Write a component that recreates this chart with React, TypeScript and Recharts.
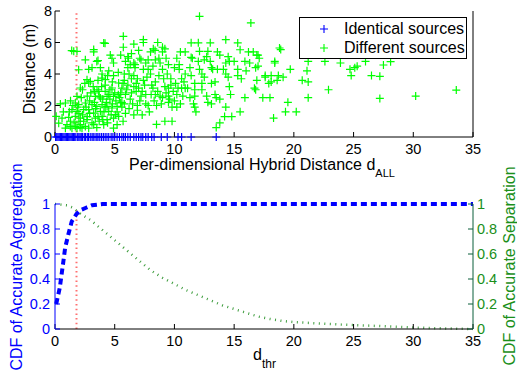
import React from "react";
import {
  ScatterChart,
  Scatter,
  LineChart,
  Line,
  XAxis,
  YAxis,
  ReferenceLine,
  Legend,
} from "recharts";

const FONT = "'Liberation Sans', Arial, Helvetica, sans-serif";

const xTicks = [0, 5, 10, 15, 20, 25, 30, 35];
const distTicks = [0, 2, 4, 6, 8];
const cdfTicks = [0, 0.2, 0.4, 0.6, 0.8, 1];
const threshold = 1.8;

// identical sources all sit at distance 0
const identicalX = [
  0.05, 0.15, 0.25, 0.35, 0.45, 0.55, 0.65, 0.75, 0.85, 0.95, 1.05, 1.15, 1.25,
  1.35, 1.45, 1.55, 1.65, 1.75, 1.9, 2.0, 2.1, 2.2, 2.3, 2.45, 2.55, 2.7, 2.8,
  2.95, 3.1, 3.2, 3.35, 3.5, 3.6, 3.75, 3.9, 4.05, 4.2, 4.35, 4.5, 4.7, 4.85,
  5.0, 5.2, 5.4, 5.6, 5.75, 5.9, 6.1, 6.3, 6.6, 6.8, 7.0, 7.2, 7.35, 7.6, 7.8,
  8.1, 8.3, 8.9, 9.4, 10.3, 10.6, 11.4, 13.5,
];

// different sources [d_ALL, distance]
const differentNear = [
  [4.08, 5.97], [1.57, 5.44], [1.84, 5.44], [3.24, 5.55], [3.24, 5.4], [2.54, 4.9],
  [3.5, 4.8], [3.6, 4.85], [4.63, 5.2], [4.77, 5.0], [4.9, 4.7], [1.98, 4.27],
  [2.82, 4.3], [3.1, 4.4], [3.8, 4.4], [4.5, 4.2], [3.94, 4.0], [2.12, 3.11],
  [2.82, 3.43], [2.96, 3.53], [2.68, 3.64], [3.94, 3.74], [4.22, 3.64], [4.77, 3.11],
  [5.33, 3.43], [3.52, 3.0], [3.66, 2.9], [4.2, 2.9], [4.6, 3.0], [5.0, 2.8],
  [1.84, 2.58], [3.38, 2.58], [3.8, 2.48], [4.36, 2.58], [4.9, 2.58], [5.3, 2.69],
  [0.87, 2.16], [0.45, 2.1], [1.7, 2.16], [1.98, 2.06], [2.54, 2.16], [3.1, 2.06],
  [3.5, 1.95], [3.94, 2.06], [4.36, 1.95], [4.77, 1.84], [5.2, 1.95], [5.5, 2.16],
  [1.42, 1.74], [1.84, 1.63], [2.4, 1.74], [2.82, 1.74], [3.24, 1.52], [3.8, 1.63],
  [4.5, 1.63], [5.05, 1.42], [0.1, 1.31], [0.59, 1.2], [1.15, 1.25], [1.7, 1.31],
  [2.12, 1.2], [2.68, 1.1], [3.38, 1.2], [3.94, 1.31], [4.36, 1.1], [4.9, 1.2],
  [5.33, 1.31], [0.31, 0.88], [1.0, 0.78], [1.28, 0.67], [1.7, 0.67], [2.12, 0.78],
  [2.54, 0.67], [3.24, 0.78], [4.08, 0.78], [4.9, 0.56], [5.2, 0.78], [0.87, 0.56],
  [1.42, 0.56], [1.84, 0.56], [2.26, 0.56], [2.82, 0.56], [1.3, 1.0], [1.6, 0.9],
  [2.0, 1.0], [2.3, 1.4], [2.6, 1.9], [2.9, 2.3], [3.0, 2.8], [3.3, 2.2],
  [3.6, 1.3], [3.7, 2.6], [4.0, 2.4], [4.1, 1.6], [4.3, 2.2], [4.6, 2.4],
  [4.7, 1.4], [5.1, 2.3], [2.2, 2.5], [2.5, 3.4], [1.5, 2.0], [1.2, 1.6],
  [2.7, 1.3], [3.1, 0.9], [3.5, 0.6], [4.4, 0.9], [1.9, 1.9], [2.4, 1.0],
  [3.9, 3.2], [4.2, 3.3], [4.8, 3.5], [5.4, 2.5], [4.19, 5.95], [1.4, 5.49],
  [2.3, 3.0], [2.7, 2.6], [3.2, 3.2], [3.4, 1.8], [3.7, 1.0], [4.0, 1.1],
  [4.4, 3.9], [4.5, 2.7], [4.9, 3.9], [5.2, 1.6], [2.0, 1.5], [1.3, 2.3],
  [0.7, 1.6], [2.9, 1.5], [3.6, 3.6], [4.8, 2.1], [5.3, 4.1], [3.3, 2.9],
  [2.1, 0.6], [4.2, 1.9],
];

const differentMid = [
  [5.72, 6.39], [5.72, 5.7], [7.4, 6.18], [7.4, 6.0], [8.23, 5.6], [8.38, 5.5],
  [9.0, 5.7], [9.0, 5.4], [9.2, 5.6], [10.5, 5.4], [10.9, 5.4], [6.1, 5.1],
  [6.15, 5.0], [7.1, 5.0], [7.2, 4.9], [7.8, 4.9], [8.4, 4.9], [8.7, 5.0],
  [8.8, 4.7], [6.6, 4.7], [6.7, 4.6], [9.0, 4.3], [6.1, 4.4], [6.7, 4.4],
  [7.4, 4.3], [7.8, 4.3], [8.0, 4.0], [5.8, 4.0], [6.2, 4.0], [6.6, 3.9],
  [9.4, 4.0], [9.7, 3.7], [10.4, 4.3], [10.9, 4.0], [10.6, 3.7], [6.4, 3.7],
  [6.9, 3.7], [7.4, 3.6], [8.4, 3.5], [9.1, 3.7], [9.2, 3.2], [9.5, 3.1],
  [5.7, 3.4], [6.6, 3.2], [7.0, 3.1], [10.3, 3.1], [10.6, 3.1], [10.9, 3.1],
  [5.5, 2.8], [5.9, 2.7], [6.4, 2.8], [7.2, 2.6], [7.6, 2.7], [8.05, 2.7],
  [8.4, 2.7], [8.8, 2.6], [9.5, 2.6], [9.6, 2.4], [9.5, 2.2], [5.6, 2.2],
  [5.8, 2.1], [5.6, 1.9], [7.6, 2.1], [7.8, 2.0], [8.5, 2.0], [9.8, 1.9],
  [10.2, 1.9], [5.9, 1.5], [6.6, 1.4], [7.3, 1.4], [5.7, 1.0], [8.5, 0.8],
  [9.2, 1.0], [9.8, 1.0], [6.0, 3.0], [6.3, 2.4], [6.8, 2.9], [7.1, 2.3],
  [7.5, 3.3], [8.2, 3.1], [8.7, 3.9], [9.9, 2.9], [10.1, 3.4], [10.7, 2.6],
  [5.6, 3.1], [6.2, 1.8], [6.9, 2.0], [8.9, 2.1], [10.4, 4.6], [10.2, 5.0],
  [9.5, 4.6], [7.0, 5.5], [6.4, 5.3], [8.6, 6.0], [5.9, 4.8], [10.0, 2.3],
  [5.8, 3.6], [6.1, 3.3], [6.5, 2.1], [6.8, 3.4], [7.3, 2.9], [7.7, 3.8],
  [8.1, 3.3], [8.3, 2.3], [8.6, 2.9], [9.0, 2.5], [9.3, 2.8], [9.7, 3.3],
  [10.2, 2.7], [10.5, 2.1], [10.8, 3.5], [6.3, 4.6], [7.6, 4.7], [8.2, 4.5],
  [9.3, 5.0], [10.0, 4.4], [6.9, 1.7], [7.9, 1.6], [5.5, 5.2], [6.6, 5.9],
  [8.0, 5.4],
];

const differentFar = [
  [12.1, 7.66], [16.4, 7.24], [11.4, 5.98], [12.0, 5.98], [13.0, 5.98], [14.3, 6.18],
  [15.3, 5.97], [15.5, 5.54], [11.5, 5.0], [11.4, 5.05], [12.1, 5.44], [12.8, 5.44],
  [12.7, 5.1], [13.6, 5.4], [13.8, 5.2], [14.5, 5.1], [14.6, 4.8], [14.3, 4.7],
  [16.2, 5.4], [16.6, 5.4], [17.0, 5.2], [17.1, 5.0], [12.0, 4.8], [12.5, 4.9],
  [13.0, 4.8], [15.0, 4.8], [15.9, 4.8], [16.3, 4.7], [11.3, 4.4], [12.1, 4.3],
  [13.1, 4.4], [13.2, 4.3], [13.6, 4.3], [14.1, 4.3], [15.3, 4.3], [16.0, 4.2],
  [16.8, 4.4], [17.0, 4.5], [11.4, 3.9], [12.3, 4.0], [12.5, 3.8], [14.3, 4.0],
  [14.5, 3.8], [15.3, 3.9], [15.6, 3.7], [17.6, 3.9], [11.7, 3.4], [12.3, 3.4],
  [13.1, 3.4], [13.4, 3.5], [11.1, 3.1], [11.7, 3.0], [12.3, 3.0], [14.6, 3.2],
  [16.7, 3.1], [11.3, 2.5], [11.7, 2.6], [12.7, 2.6], [13.4, 2.7], [13.5, 2.5],
  [14.7, 2.7], [15.9, 2.5], [17.4, 2.5], [11.6, 2.1], [12.8, 2.2], [13.1, 2.1],
  [13.8, 2.4], [11.7, 1.9], [11.8, 1.6], [14.3, 1.9], [14.2, 1.3], [14.8, 1.3],
  [15.5, 1.6], [13.8, 0.9], [13.5, 0.6], [16.9, 3.6], [16.8, 3.0], [16.9, 5.2],
];

const differentTail = [
  [18.8, 5.65], [18.9, 5.55], [18.4, 4.8], [18.4, 4.7], [21.2, 4.8], [22.6, 4.8],
  [23.9, 4.7], [25.1, 4.4], [25.3, 4.5], [26.0, 4.8], [24.7, 4.3], [24.8, 3.9],
  [26.5, 3.9], [27.2, 3.85], [27.5, 4.57], [28.1, 4.78], [17.6, 3.8], [18.1, 3.9],
  [18.1, 3.5], [18.6, 3.6], [18.7, 3.9], [19.1, 3.8], [17.9, 3.4], [19.7, 4.3],
  [21.1, 4.2], [20.7, 3.6], [21.2, 3.5], [22.9, 3.0], [18.0, 2.5], [19.5, 2.2],
  [21.2, 2.5], [19.3, 1.6], [20.2, 1.6], [18.3, 1.2], [27.2, 2.45], [30.2, 2.6],
  [33.6, 2.98],
];

// CDF curves
const aggX = [0.1, 0.4, 0.7, 0.85, 1.1, 1.4, 1.8, 2.1, 2.6, 3.1, 4, 10, 20, 35];
const aggY = [0.2, 0.33, 0.54, 0.65, 0.75, 0.86, 0.92, 0.95, 0.97, 0.99, 1, 1, 1, 1];

const sepX = [0, 1, 1.5, 2, 3, 4, 5, 6, 7, 8, 9, 10, 11, 12, 13, 14, 15, 16, 17, 18, 19, 20, 22, 24, 26, 28, 30, 32, 35];
const sepY = [1, 0.99, 0.97, 0.93, 0.87, 0.79, 0.71, 0.63, 0.55, 0.47, 0.41, 0.36, 0.31, 0.27, 0.23, 0.19, 0.16, 0.13, 0.1, 0.08, 0.065, 0.055, 0.045, 0.035, 0.028, 0.02, 0.012, 0.006, 0];

const identicalData = identicalX.map((x) => ({ x, y: 0 }));
const differentData = [...differentNear, ...differentMid, ...differentFar, ...differentTail].map(
  ([x, y]) => ({ x, y })
);
const aggData = aggX.map((x, i) => ({ x, y: aggY[i] }));
const sepData = sepX.map((x, i) => ({ x, y: sepY[i] }));

const Plus = (props: any) => {
  const { cx, cy, fill } = props;
  if (cx == null || cy == null) return null;
  return (
    <path
      d={`M${cx - 4},${cy}h8M${cx},${cy - 4}v8`}
      stroke={fill}
      strokeWidth={1.2}
      fill="none"
    />
  );
};

const LegendBox = () => (
  <div
    style={{
      width: 168,
      height: 42,
      border: "1px solid #000",
      background: "#fff",
      boxSizing: "border-box",
      fontFamily: FONT,
      fontSize: 16,
      position: "relative",
    }}
  >
    {[
      { label: "Identical sources", color: "#0000ff", top: 11 },
      { label: "Different sources", color: "#00ff00", top: 30 },
    ].map((r) => (
      <div key={r.label}>
        <svg
          width={10}
          height={10}
          style={{ position: "absolute", left: 19, top: r.top - 5 }}
        >
          <path d="M1,5h8M5,1v8" stroke={r.color} strokeWidth={1.1} />
        </svg>
        <span
          style={{
            position: "absolute",
            left: 44,
            top: r.top - 10,
            lineHeight: "20px",
            whiteSpace: "nowrap",
          }}
        >
          {r.label}
        </span>
      </div>
    ))}
  </div>
);

const tickStyle = { fill: "#000", fontSize: 14.5, fontFamily: FONT };

export default function App() {
  return (
    <div
      style={{
        position: "absolute",
        left: 0,
        top: 0,
        width: 517,
        height: 376,
        background: "#fff",
        overflow: "hidden",
      }}
    >
      <div style={{ position: "absolute", left: 0, top: 0 }}>
        <ScatterChart width={517} height={190} margin={{ top: 11, right: 0, bottom: 0, left: 0 }}>
          <XAxis
            xAxisId="b"
            type="number"
            dataKey="x"
            domain={[0, 35]}
            ticks={xTicks}
            interval={0}
            height={53}
            stroke="#000"
            tickSize={-5}
            tickMargin={12}
            tick={tickStyle}
          />
          <XAxis
            xAxisId="t"
            orientation="top"
            type="number"
            domain={[0, 35]}
            ticks={xTicks}
            interval={0}
            height={0}
            stroke="#000"
            tickSize={-5}
            tick={false}
          />
          <YAxis
            yAxisId="l"
            type="number"
            dataKey="y"
            domain={[0, 8]}
            ticks={distTicks}
            interval={0}
            width={55}
            stroke="#000"
            tickSize={-5}
            tickMargin={8}
            tick={tickStyle}
          />
          <YAxis
            yAxisId="r"
            orientation="right"
            type="number"
            domain={[0, 8]}
            ticks={distTicks}
            interval={0}
            width={44}
            stroke="#000"
            tickSize={-5}
            tick={false}
          />
          <Scatter
            name="Different sources"
            xAxisId="b"
            yAxisId="l"
            data={differentData}
            fill="#00ff00"
            shape={<Plus />}
            isAnimationActive={false}
          />
          <Scatter
            name="Identical sources"
            xAxisId="b"
            yAxisId="l"
            data={identicalData}
            fill="#0000ff"
            shape={<Plus />}
            isAnimationActive={false}
          />
          <ReferenceLine
            xAxisId="b"
            yAxisId="l"
            x={threshold}
            stroke="#ff7070"
            strokeWidth={2}
            strokeDasharray="1.5 3.2"
          />
          <Legend
            layout="horizontal"
            verticalAlign="middle"
            align="center"
            content={<LegendBox />}
            wrapperStyle={{ position: "absolute", left: 299, top: 17, width: 168, height: 42 }}
          />
        </ScatterChart>
      </div>

      <div style={{ position: "absolute", left: 0, top: 190 }}>
        <LineChart width={517} height={186} margin={{ top: 14, right: 0, bottom: 0, left: 0 }}>
          <XAxis
            type="number"
            dataKey="x"
            domain={[0, 35]}
            ticks={xTicks}
            interval={0}
            height={47}
            stroke="#000"
            tickSize={-5}
            tickMargin={12}
            tick={tickStyle}
          />
          <XAxis
            xAxisId="top"
            orientation="top"
            type="number"
            domain={[0, 35]}
            ticks={xTicks}
            interval={0}
            height={0}
            stroke="#000"
            tickSize={-5}
            tick={false}
          />
          <YAxis
            yAxisId="agg"
            type="number"
            domain={[0, 1]}
            ticks={cdfTicks}
            interval={0}
            width={55}
            stroke="#0000ff"
            tickSize={-5}
            tickMargin={10}
            tick={{ ...tickStyle, fill: "#0000ff" }}
          />
          <YAxis
            yAxisId="sep"
            orientation="right"
            type="number"
            domain={[0, 1]}
            ticks={cdfTicks}
            interval={0}
            width={44}
            stroke="#0b5e3a"
            tickSize={-5}
            tickMargin={9}
            tick={{ ...tickStyle, fill: "#1a8f1a" }}
          />
          <ReferenceLine
            yAxisId="agg"
            segment={[
              { x: threshold, y: 0 },
              { x: threshold, y: 0.95 },
            ]}
            stroke="#ff7070"
            strokeWidth={2}
            strokeDasharray="1.5 3.2"
          />
          <Line
            yAxisId="sep"
            data={sepData}
            dataKey="y"
            type="linear"
            stroke="#3c9c3c"
            strokeWidth={2.5}
            strokeDasharray="1 4.5"
            dot={false}
            isAnimationActive={false}
          />
          <Line
            yAxisId="agg"
            data={aggData}
            dataKey="y"
            type="linear"
            stroke="#0000ff"
            strokeWidth={4}
            strokeDasharray="6 4"
            dot={false}
            isAnimationActive={false}
          />
        </LineChart>
      </div>

      <svg
        width={517}
        height={376}
        style={{ position: "absolute", left: 0, top: 0, pointerEvents: "none" }}
        fontFamily={FONT}
      >
        <text
          transform="translate(29,69) rotate(-90)"
          textAnchor="middle"
          dominantBaseline="central"
          fontSize={16}
          fill="#000"
        >
          Distance (m)
        </text>
        <text x={129} y={170} fontSize={16} fill="#000">
          Per-dimensional Hybrid Distance d
          <tspan fontSize={11} dy={7}>
            ALL
          </tspan>
        </text>
        <text
          transform="translate(16,267) rotate(-90)"
          textAnchor="middle"
          dominantBaseline="central"
          fontSize={16}
          fill="#0000ff"
        >
          CDF of Accurate Aggregation
        </text>
        <text
          transform="translate(509,266) rotate(-90)"
          textAnchor="middle"
          dominantBaseline="central"
          fontSize={16}
          fill="#1a8f1a"
        >
          CDF of Accurate Separation
        </text>
        <text x={253} y={360} fontSize={16} fill="#000">
          d
          <tspan fontSize={12} dy={8}>
            thr
          </tspan>
        </text>
      </svg>
    </div>
  );
}
